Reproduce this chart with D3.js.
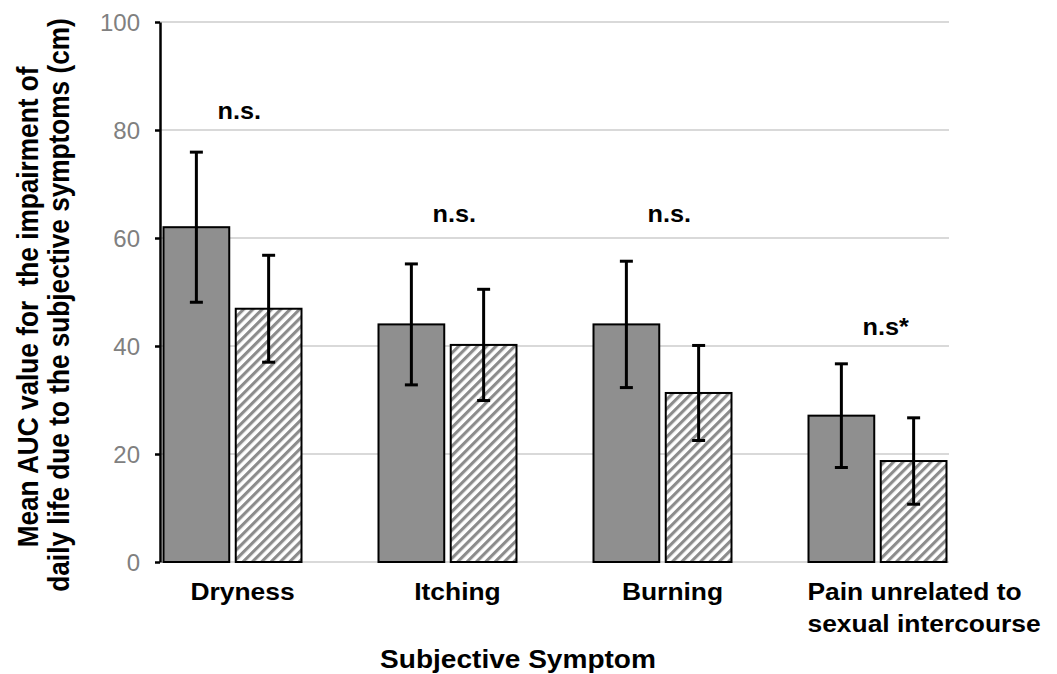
<!DOCTYPE html>
<html lang="en">
<head>
<meta charset="utf-8">
<title>Mean AUC by Subjective Symptom</title>
<script src="https://cdn.jsdelivr.net/npm/d3@7"></script>
<style>
body { margin: 0; background: #fff; }
text { font-family: "Liberation Sans", Arial, Helvetica, sans-serif; }
.yaxis text { fill: #808080; font-size: 24px; }
.yaxis path, .yaxis line { stroke: #000; stroke-width: 2.5px; }
.lbl { font-weight: bold; fill: #000; }
</style>
</head>
<body>
<script>
var categories = ["Dryness", "Itching", "Burning", "Pain unrelated to sexual intercourse"];
var meanA = [62.0, 44.0, 44.0, 27.1];
var errA  = [13.9, 11.2, 11.7, 9.6];
var meanB = [46.9, 40.2, 31.3, 18.7];
var errB  = [9.9, 10.3, 8.8, 8.0];
var sigLabels = ["n.s.", "n.s.", "n.s.", "n.s*"];
var sigLevel  = [82, 63, 63, 42];
var yTicks = [0, 20, 40, 60, 80, 100];
var yTitle = ["Mean AUC value for  the impairment of", "daily life due to the subjective symptoms (cm)"];

var w = 1057, h = 674;
var sx = 1.1; // text in the source is a bit wider than it is tall

var svg = d3.select("body").append("svg")
    .attr("width", w).attr("height", h);

var defs = svg.append("defs");
var pat = defs.append("pattern")
    .attr("id", "hatch")
    .attr("patternUnits", "userSpaceOnUse")
    .attr("width", 6.6).attr("height", 10)
    .attr("patternTransform", "rotate(45)");
pat.append("rect").attr("width", 6.6).attr("height", 10).attr("fill", "#fff");
pat.append("rect").attr("width", 3.1).attr("height", 10).attr("fill", "#8c8c8c");

var y = d3.scaleLinear().domain([0, 100]).range([562, 22]);
var x = d3.scaleBand().domain(categories).range([125, 985]);
var xSub = d3.scaleBand().domain([0, 1]).range([0, 138]).paddingInner(0.09);

// grid
svg.append("g").selectAll("line")
    .data(yTicks).enter().append("line")
    .attr("x1", 160).attr("x2", 949)
    .attr("y1", function(d) { return y(d); })
    .attr("y2", function(d) { return y(d); })
    .attr("stroke", "#d9d9d9").attr("stroke-width", 2);

var rows = categories.map(function(c, i) {
    return [
        {cat: c, s: 0, v: meanA[i], e: errA[i]},
        {cat: c, s: 1, v: meanB[i], e: errB[i]}
    ];
});
var flat = [].concat.apply([], rows);

function barX(d) { return x(d.cat) + x.bandwidth() / 2 - 69 + xSub(d.s); }

svg.append("g").selectAll("rect")
    .data(flat).enter().append("rect")
    .attr("x", barX)
    .attr("y", function(d) { return y(d.v); })
    .attr("width", xSub.bandwidth())
    .attr("height", function(d) { return y(0) - y(d.v); })
    .attr("fill", function(d) { return d.s == 0 ? "#8f8f8f" : "url(#hatch)"; })
    .attr("stroke", "#000").attr("stroke-width", 2);

// error bars
var eb = svg.append("g").selectAll("g")
    .data(flat).enter().append("g")
    .attr("stroke", "#000").attr("stroke-width", 3);
eb.append("line")
    .attr("x1", function(d) { return barX(d) + xSub.bandwidth() / 2; })
    .attr("x2", function(d) { return barX(d) + xSub.bandwidth() / 2; })
    .attr("y1", function(d) { return y(d.v + d.e); })
    .attr("y2", function(d) { return y(d.v - d.e); });
[1, -1].forEach(function(sign) {
    eb.append("line")
        .attr("x1", function(d) { return barX(d) + xSub.bandwidth() / 2 - 6.5; })
        .attr("x2", function(d) { return barX(d) + xSub.bandwidth() / 2 + 6.5; })
        .attr("y1", function(d) { return y(d.v + sign * d.e); })
        .attr("y2", function(d) { return y(d.v + sign * d.e); });
});

// y axis
var yAxis = d3.axisLeft(y).tickValues(yTicks).tickSize(5).tickSizeOuter(0).tickPadding(15);
svg.append("g").attr("class", "yaxis")
    .attr("transform", "translate(160,0)")
    .call(yAxis);
svg.selectAll(".yaxis text").attr("dy", "0.36em");

// category labels
categories.forEach(function(c) {
    var words = c.split(" "), lines = [], cur = "";
    var probe = svg.append("text").attr("class", "lbl").style("font-size", "24px");
    words.forEach(function(wd) {
        var t = cur ? cur + " " + wd : wd;
        probe.text(t);
        if (probe.node().getComputedTextLength() * sx > 245 && cur) { lines.push(cur); cur = wd; }
        else cur = t;
    });
    lines.push(cur);
    probe.remove();
    var cx = x(c) + x.bandwidth() / 2;
    var multi = lines.length > 1;
    var tx = multi ? cx - 70 : cx + 10;
    var g = svg.append("g").attr("transform", "translate(" + tx + ",600) scale(" + sx + ",1)");
    g.selectAll("text").data(lines).enter().append("text")
        .attr("class", "lbl")
        .attr("y", function(d, i) { return i * 32; })
        .attr("text-anchor", multi ? "start" : "middle")
        .style("font-size", "24px")
        .text(function(d) { return d; });
});

// significance labels
categories.forEach(function(c, i) {
    svg.append("text").attr("class", "lbl")
        .attr("transform", "translate(" + (x(c) + x.bandwidth() / 2 - 15) + "," + y(sigLevel[i]) + ") scale(" + sx + ",1)")
        .style("font-size", "23px")
        .text(sigLabels[i]);
});

// axis titles
svg.append("text").attr("class", "lbl")
    .attr("transform", "translate(518,668) scale(" + sx + ",1)")
    .attr("text-anchor", "middle")
    .style("font-size", "25.5px")
    .text("Subjective Symptom");

yTitle.forEach(function(t, i) {
    svg.append("text").attr("class", "lbl")
        .attr("transform", "translate(" + (38 + i * 31) + "," + (305 + (i == 0 ? 2 : 0)) + ") scale(" + sx + ",1) rotate(-90)")
        .attr("text-anchor", "middle")
        .style("font-size", "26.2px")
        .style("white-space", "pre")
        .text(t);
});
</script>
</body>
</html>
